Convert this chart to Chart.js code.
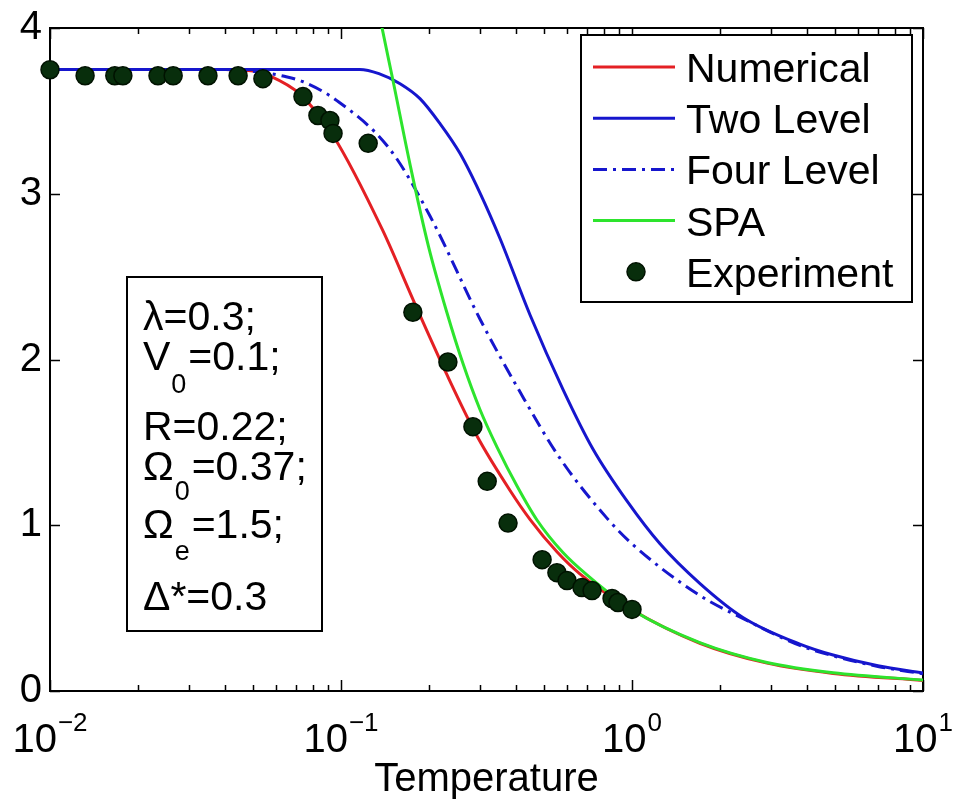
<!DOCTYPE html>
<html>
<head>
<meta charset="utf-8">
<script src="https://cdn.jsdelivr.net/npm/chart.js@4.4.0/dist/chart.umd.min.js"></script>
<style>
  body { margin: 0; background: #fff; }
  #grafica { display: block; }
</style>
</head>
<body>
<canvas id="grafica" width="955" height="808"></canvas>
<script>
// valores (T en escala log, eje y lineal)
var numT = [0.01, 0.02, 0.03, 0.04, 0.05, 0.057, 0.0723, 0.094, 0.139, 0.177, 0.231, 0.293, 0.381, 0.446, 0.552, 0.662, 1.0, 1.71, 2.91, 4.91, 10];
var numV = [3.75, 3.75, 3.75, 3.75, 3.74, 3.71, 3.60, 3.35, 2.78, 2.36, 1.91, 1.54, 1.21, 1.036, 0.84, 0.707, 0.49, 0.288, 0.168, 0.106, 0.064];

var twoT = [0.01, 0.05, 0.08, 0.116, 0.135, 0.1596, 0.1868, 0.2187, 0.2563, 0.3005, 0.3519, 0.446, 0.579, 0.734, 0.962, 1.248, 1.713, 2.405, 3.773, 4.91, 7.0, 10];
var twoV = [3.75, 3.75, 3.75, 3.75, 3.725, 3.664, 3.574, 3.424, 3.244, 3.004, 2.73, 2.27, 1.82, 1.46, 1.145, 0.888, 0.648, 0.444, 0.283, 0.217, 0.152, 0.108];

var fourT = [0.01, 0.04, 0.055, 0.0632, 0.074, 0.0968, 0.147, 0.202, 0.3005, 0.412, 0.566, 0.82, 1.0, 1.67, 2.48, 3.773, 4.91, 7.0, 10];
var fourV = [3.75, 3.75, 3.73, 3.71, 3.676, 3.562, 3.27, 2.867, 2.243, 1.805, 1.403, 1.043, 0.888, 0.588, 0.426, 0.275, 0.212, 0.148, 0.104];

var spaT = [0.128, 0.1384, 0.151, 0.173, 0.2, 0.231, 0.262, 0.300, 0.344, 0.403, 0.472, 0.579, 0.70, 1.0, 1.71, 2.91, 4.91, 10];
var spaV = [4.3, 4.0, 3.68, 3.17, 2.68, 2.285, 1.98, 1.70, 1.47, 1.235, 1.03, 0.835, 0.70, 0.49, 0.292, 0.172, 0.11, 0.066];

var expT = [0.01, 0.0132, 0.0167, 0.0178, 0.0235, 0.0265, 0.0349, 0.0443, 0.0539, 0.074, 0.0833, 0.0916, 0.0939, 0.124, 0.1766, 0.233, 0.284, 0.318, 0.375, 0.491, 0.552, 0.598, 0.673, 0.729, 0.854, 0.895, 1.0];
var expV = [3.748, 3.712, 3.712, 3.712, 3.712, 3.712, 3.712, 3.712, 3.694, 3.586, 3.472, 3.442, 3.364, 3.304, 2.285, 1.985, 1.595, 1.265, 1.013, 0.792, 0.714, 0.666, 0.624, 0.606, 0.558, 0.534, 0.492];

var etiquetas = ['Numerical', 'Two Level', 'Four Level', 'SPA', 'Experiment'];
var xTicks = [0.01, 0.1, 1, 10];
var xTickBase = '10';
var xTickExp = ['\u22122', '\u22121', '0', '1'];
var yTicks = [0, 1, 2, 3, 4];

var fuente = "'Liberation Sans', Arial, sans-serif";

function puntos(xs, ys) {
  return xs.map(function (x, i) { return { x: x, y: ys[i] }; });
}

// recuadro con los parametros
var parametros = [
  { y: 330, partes: [['\u03bb=0.3;', 0]] },
  { y: 370, partes: [['V', 0], ['0', 23], ['=0.1;', 0]] },
  { y: 440, partes: [['R=0.22;', 0]] },
  { y: 480, partes: [['\u03a9', 0], ['0', 20], ['=0.37;', 0]] },
  { y: 538, partes: [['\u03a9', 0], ['e', 22], ['=1.5;', 0]] },
  { y: 610, partes: [['\u0394*=0.3', 0]] }
];

var decoracion = {
  id: 'decoracion',
  beforeDatasetsDraw: function (chart) {
    var ctx = chart.ctx, a = chart.chartArea, sx = chart.scales.x, sy = chart.scales.y;
    ctx.save();
    ctx.strokeStyle = '#000';
    ctx.lineWidth = 1.5;
    ctx.beginPath();
    // ticks x hacia adentro (abajo y arriba)
    xTicks.forEach(function (d, i) {
      var px = Math.round(sx.getPixelForValue(d)) + 0.5;
      ctx.moveTo(px, a.bottom); ctx.lineTo(px, a.bottom - 11);
      ctx.moveTo(px, a.top); ctx.lineTo(px, a.top + 11);
      if (i < xTicks.length - 1) {
        for (var m = 2; m <= 9; m++) {
          var pm = Math.round(sx.getPixelForValue(d * m)) + 0.5;
          ctx.moveTo(pm, a.bottom); ctx.lineTo(pm, a.bottom - 6);
          ctx.moveTo(pm, a.top); ctx.lineTo(pm, a.top + 6);
        }
      }
    });
    yTicks.forEach(function (v) {
      var py = Math.round(sy.getPixelForValue(v)) + 0.5;
      ctx.moveTo(a.left, py); ctx.lineTo(a.left + 10, py);
      ctx.moveTo(a.right, py); ctx.lineTo(a.right - 10, py);
    });
    ctx.stroke();
    ctx.lineWidth = 2;
    ctx.strokeRect(a.left, a.top, a.right - a.left, a.bottom - a.top);
    ctx.restore();
  },
  afterDatasetsDraw: function (chart) {
    var ctx = chart.ctx, sx = chart.scales.x;
    ctx.save();
    ctx.fillStyle = '#000';
    ctx.textBaseline = 'alphabetic';
    ctx.textAlign = 'left';

    // etiquetas del eje x: 10 con exponente
    xTickExp.forEach(function (e, i) {
      var px = sx.getPixelForValue(xTicks[i]);
      ctx.font = '40px ' + fuente;
      var wb = ctx.measureText(xTickBase).width;
      ctx.font = '26px ' + fuente;
      var we = ctx.measureText(e).width;
      var x0 = px - (wb + we + 1) / 2;
      ctx.font = '40px ' + fuente;
      ctx.fillText(xTickBase, x0, 752);
      ctx.font = '26px ' + fuente;
      ctx.fillText(e, x0 + wb + 1, 731);
    });

    // recuadro de parametros
    ctx.fillStyle = '#fff';
    ctx.fillRect(127, 277, 195, 354);
    ctx.strokeStyle = '#000';
    ctx.lineWidth = 2;
    ctx.strokeRect(127, 277, 195, 354);
    ctx.fillStyle = '#000';
    parametros.forEach(function (fila) {
      var x = 143;
      fila.partes.forEach(function (p) {
        if (p[1]) {
          ctx.font = '27px ' + fuente;
          ctx.fillText(p[0], x + 1, fila.y + p[1]);
          x += ctx.measureText(p[0]).width + 3;
        } else {
          ctx.font = '41px ' + fuente;
          ctx.fillText(p[0], x, fila.y);
          x += ctx.measureText(p[0]).width;
        }
      });
    });

    // leyenda
    ctx.fillStyle = '#fff';
    ctx.fillRect(581, 35, 331, 267);
    ctx.strokeRect(581, 35, 331, 267);
    chart.data.datasets.forEach(function (ds, i) {
      var fy = 67 + i * 51.2;
      if (ds.showLine) {
        ctx.save();
        ctx.strokeStyle = ds.borderColor;
        ctx.lineWidth = ds.borderWidth;
        ctx.setLineDash(ds.borderDash || []);
        ctx.beginPath();
        ctx.moveTo(593, fy);
        ctx.lineTo(675, fy);
        ctx.stroke();
        ctx.restore();
      } else {
        ctx.beginPath();
        ctx.arc(636, fy, ds.pointRadius, 0, Math.PI * 2);
        ctx.fillStyle = ds.backgroundColor;
        ctx.fill();
        ctx.lineWidth = ds.borderWidth;
        ctx.strokeStyle = ds.borderColor;
        ctx.stroke();
      }
      ctx.fillStyle = '#000';
      ctx.font = '41px ' + fuente;
      ctx.fillText(ds.label, 686, fy + 15);
    });
    ctx.restore();
  }
};

function linea(label, xs, ys, color, orden, dash) {
  return {
    label: label,
    data: puntos(xs, ys),
    showLine: true,
    borderColor: color,
    backgroundColor: color,
    borderWidth: 3,
    borderDash: dash || [],
    pointRadius: 0,
    pointHoverRadius: 0,
    cubicInterpolationMode: 'monotone',
    order: orden
  };
}

var datos = {
  datasets: [
    linea(etiquetas[0], numT, numV, 'rgb(228,32,36)', 4),
    linea(etiquetas[1], twoT, twoV, 'rgb(22,22,205)', 3),
    linea(etiquetas[2], fourT, fourV, 'rgb(22,22,205)', 2, [14, 6, 3, 6]),
    linea(etiquetas[3], spaT, spaV, 'rgb(45,228,45)', 1),
    {
      label: etiquetas[4],
      data: puntos(expT, expV),
      showLine: false,
      pointRadius: 9,
      pointHoverRadius: 9,
      borderWidth: 1.5,
      backgroundColor: 'rgb(8,46,12)',
      borderColor: 'rgb(0,18,0)',
      clip: false,
      order: 0
    }
  ]
};

var config = {
  type: 'scatter',
  data: datos,
  options: {
    responsive: false,
    animation: false,
    devicePixelRatio: 1,
    events: [],
    layout: { padding: { top: 24, right: 32, left: 0, bottom: 0 } },
    plugins: {
      legend: { display: false },
      tooltip: { enabled: false }
    },
    scales: {
      x: {
        type: 'logarithmic',
        min: 0.01,
        max: 10,
        grid: { display: false, drawTicks: false },
        border: { display: false },
        ticks: { display: false },
        title: {
          display: true,
          text: 'Temperature',
          color: '#000',
          font: { family: fuente, size: 40 },
          padding: { top: 0, bottom: 4 }
        },
        afterFit: function (s) { s.height = 117; }
      },
      y: {
        min: 0,
        max: 4,
        grid: { display: false, drawTicks: false },
        border: { display: false },
        ticks: {
          stepSize: 1,
          color: '#000',
          padding: 8,
          font: { family: fuente, size: 40, lineHeight: 1 }
        },
        afterFit: function (s) { s.width = 50; }
      }
    }
  },
  plugins: [decoracion]
};

var grafica = new Chart(document.getElementById('grafica'), config);
</script>
</body>
</html>
